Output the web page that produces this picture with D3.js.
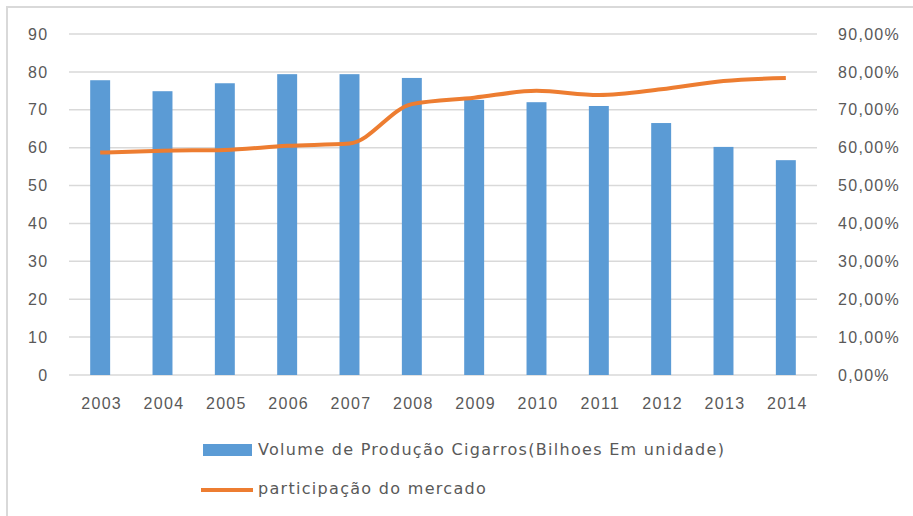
<!doctype html>
<html>
  <head>
    <script src="https://cdnjs.cloudflare.com/ajax/libs/d3/7.8.5/d3.min.js"></script>
    <style>
      body { margin: 0; background: #fff; }
      svg { display: block; font-family: "DejaVu Sans", sans-serif; }
      .tick text, .lbl { fill: #595959; font-size: 16px; letter-spacing: 1.3px; }
      .grid line { stroke: #d9d9d9; stroke-width: 1.5; }
      rect.bar { fill: #5B9BD5; }
      path.share { fill: none; stroke: #ED7D31; stroke-width: 4; }
    </style>
  </head>
  <body>
    <svg width="913" height="516"></svg>
    <script>
      var years = ["2003", "2004", "2005", "2006", "2007", "2008", "2009", "2010", "2011", "2012", "2013", "2014"];
      var volume = [77.8, 74.9, 77.0, 79.4, 79.4, 78.4, 72.6, 72.0, 71.0, 66.5, 60.2, 56.7];
      var share = [58.7, 59.2, 59.4, 60.5, 61.1, 71.5, 73.2, 75.0, 73.9, 75.4, 77.6, 78.4];
      var leftTicks = [0, 10, 20, 30, 40, 50, 60, 70, 80, 90];
      var seriesNames = ["Volume de Produção Cigarros(Bilhoes Em unidade)", "participação do mercado"];

      var svg = d3.select("svg");

      // chart frame (only top and left edges show in the picture)
      svg.append("path")
        .attr("d", "M7,516 V7 H913")
        .attr("fill", "none")
        .attr("stroke", "#d9d9d9")
        .attr("stroke-width", 2);

      var x = d3.scaleBand()
        .domain(years)
        .range([69, 817])
        .paddingInner(0.68)
        .paddingOuter(0.34);

      var y = d3.scaleLinear().domain([0, 90]).range([375, 34]);

      // gridlines
      svg.append("g").attr("class", "grid")
        .selectAll("line")
        .data(leftTicks)
        .enter().append("line")
          .attr("x1", 69).attr("x2", 817)
          .attr("y1", d => y(d)).attr("y2", d => y(d));

      svg.selectAll("rect.bar")
        .data(volume)
        .enter().append("rect")
          .attr("class", "bar")
          .attr("x", (d, i) => x(years[i]))
          .attr("width", x.bandwidth())
          .attr("y", d => y(d))
          .attr("height", d => y(0) - y(d));

      var line = d3.line()
        .x((d, i) => x(years[i]) + x.bandwidth() / 2)
        .y(d => y(d))
        .curve(d3.curveMonotoneX);

      svg.append("path")
        .datum(share)
        .attr("class", "share")
        .attr("d", line);

      // axes
      var left = svg.append("g")
        .attr("transform", "translate(48.5,0)")
        .call(d3.axisLeft(y).tickValues(leftTicks).tickSize(0).tickPadding(0));
      left.select(".domain").remove();

      var right = svg.append("g")
        .attr("transform", "translate(838,0)")
        .call(d3.axisRight(y).tickValues(leftTicks).tickSize(0).tickPadding(0)
          .tickFormat(d => d3.format(".2f")(d).replace(".", ",") + "%"));
      right.select(".domain").remove();

      var bottom = svg.append("g")
        .attr("transform", "translate(0,398)")
        .call(d3.axisBottom(x).tickSize(0).tickPadding(0));
      bottom.select(".domain").remove();
      bottom.selectAll("text").attr("dx", "1.5px");

      // legend
      svg.append("rect")
        .attr("x", 203).attr("y", 444)
        .attr("width", 49).attr("height", 12)
        .attr("fill", "#5B9BD5");
      svg.append("text").attr("class", "lbl")
        .attr("x", 258).attr("y", 455)
        .text(seriesNames[0]);

      svg.append("line")
        .attr("x1", 201).attr("x2", 253)
        .attr("y1", 490).attr("y2", 490)
        .attr("stroke", "#ED7D31").attr("stroke-width", 4);
      svg.append("text").attr("class", "lbl")
        .attr("x", 258).attr("y", 494)
        .text(seriesNames[1]);
    </script>
  </body>
</html>
